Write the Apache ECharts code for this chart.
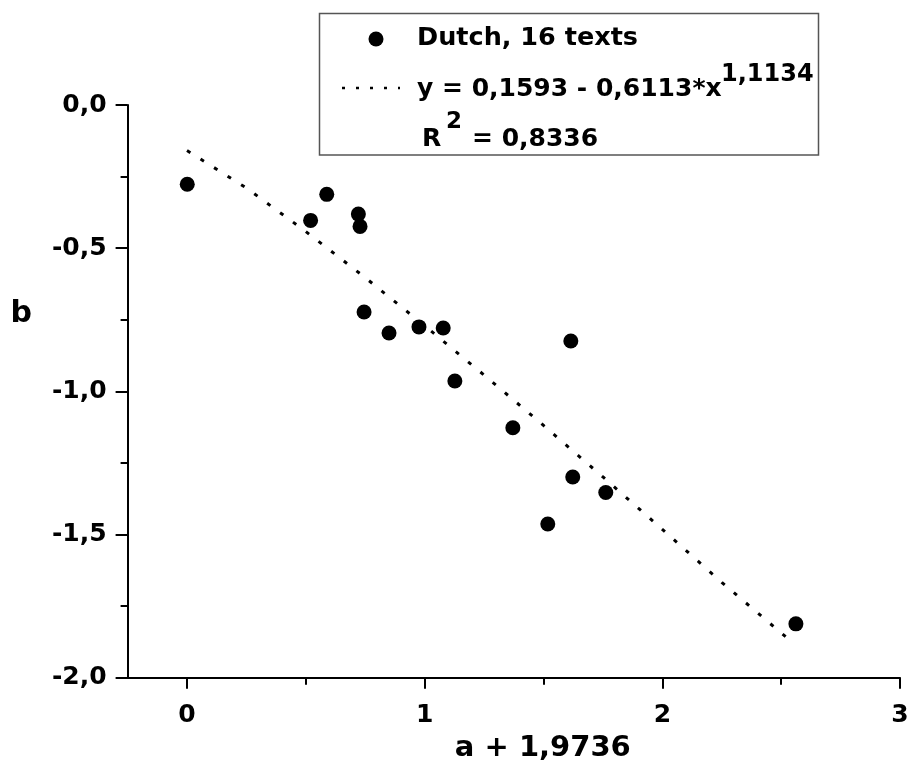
<!DOCTYPE html>
<html>
<head>
<meta charset="utf-8">
<script src="https://cdn.jsdelivr.net/npm/echarts@6/dist/echarts.min.js"></script>
<style>
html,body{margin:0;padding:0;background:#fff;}
#chart{width:913px;height:760px;}
</style>
</head>
<body>
<div id="chart"></div>
<script>
// Scatter data: Dutch, 16 texts
const xValues = [0.001, 0.520, 0.588, 0.721, 0.728, 0.745, 0.850, 0.976, 1.078, 1.127, 1.615, 1.371, 1.623, 1.762, 1.518, 2.562];
const yValues = [-0.277, -0.403, -0.312, -0.381, -0.424, -0.723, -0.796, -0.775, -0.779, -0.964, -0.824, -1.127, -1.299, -1.353, -1.463, -1.812];
// Fit curve
const fitX = [0, 0.25, 0.5, 0.75, 1, 1.25, 1.5, 1.75, 2, 2.25, 2.526];
const fitY = [-0.159, -0.290, -0.442, -0.603, -0.771, -0.943, -1.119, -1.299, -1.482, -1.667, -1.862];
// Tick labels
const xMajorTicks = [0, 1, 2, 3];
const xMinorTicks = [0.5, 1.5, 2.5];
const seriesName = 'Dutch, 16 texts';
const fitLabel = 'y = 0,1593 - 0,6113*x';
const fitExponent = '1,1134';
const r2Label = '= 0,8336';
const xTitle = 'a + 1,9736';
const yTitle = 'b';

const FONT = 'DejaVu Sans';
const chart = echarts.init(document.getElementById('chart'), null, {renderer: 'canvas'});

const scatterData = xValues.map((x, i) => [x, yValues[i]]);
const fitData = fitX.map((x, i) => [x, fitY[i]]);
const GRID_H = 760 - 105 - 82.3;

const option = {
  backgroundColor: '#ffffff',
  animation: false,
  grid: {left: 127.6, right: 13, top: 105, bottom: 82.3, containLabel: false, outerBoundsMode: 'none'},
  xAxis: [{
    type: 'value', min: -0.25, max: 3, position: 'bottom',
    name: xTitle, nameLocation: 'middle', nameGap: 56,
    nameTextStyle: {fontFamily: FONT, fontWeight: 'bold', fontSize: 29, color: '#000', padding: [0, 0, 0, 58]},
    axisLine: {show: true, onZero: false, lineStyle: {color: '#000', width: 2}},
    axisTick: {show: false},
    axisLabel: {show: true, customValues: xMajorTicks, margin: 25, fontFamily: FONT, fontWeight: 'bold', fontSize: 25, color: '#000',
      formatter: v => String(v)},
    splitLine: {show: false}
  }, {
    type: 'value', min: -0.25, max: 3, position: 'top', offset: -GRID_H,
    axisLine: {show: false},
    axisTick: {show: true, inside: true, customValues: xMinorTicks, length: 7, lineStyle: {color: '#000', width: 2}},
    axisLabel: {show: false},
    splitLine: {show: false}
  }, {
    type: 'value', min: -0.25, max: 3, position: 'top', offset: -GRID_H,
    axisLine: {show: false},
    axisTick: {show: true, inside: true, customValues: xMajorTicks, length: 11, lineStyle: {color: '#000', width: 2}},
    axisLabel: {show: false},
    splitLine: {show: false}
  }],
  yAxis: {
    type: 'value', min: -2, max: 0, interval: 0.5,
    axisLine: {show: true, onZero: false, lineStyle: {color: '#000', width: 2}},
    axisTick: {show: true, length: 12, lineStyle: {color: '#000', width: 2}},
    minorTick: {show: true, splitNumber: 2, length: 7, lineStyle: {color: '#000', width: 2}},
    axisLabel: {margin: 21, fontFamily: FONT, fontWeight: 'bold', fontSize: 25, color: '#000',
      formatter: v => (Math.abs(v) < 1e-9 ? '0,0' : v.toFixed(1).replace('.', ','))},
    splitLine: {show: false},
    minorSplitLine: {show: false}
  },
  series: [{
    name: fitLabel + fitExponent,
    type: 'line', data: fitData, showSymbol: false, symbol: 'none',
    lineStyle: {color: '#000', width: 3, type: [4, 12], opacity: 1},
    z: 2
  }, {
    name: seriesName,
    type: 'scatter', data: scatterData, symbol: 'circle', symbolSize: 15,
    itemStyle: {color: '#000', opacity: 1},
    z: 3
  }],
  graphic: [
    {type: 'text', x: 32, y: 314, z: 100, style: {text: yTitle, fontFamily: FONT, fontWeight: 'bold', fontSize: 30,
      fill: '#000', verticalAlign: 'middle', align: 'right'}},
    {type: 'group', z: 100,
    children: [
      {type: 'rect', shape: {x: 319.5, y: 13.5, width: 499, height: 141.5},
        style: {fill: '#fff', stroke: '#555', lineWidth: 1.5}},
      {type: 'circle', shape: {cx: 376, cy: 39, r: 7.5}, style: {fill: '#000'}},
      {type: 'text', x: 417, y: 38, style: {text: seriesName, fontFamily: FONT, fontWeight: 'bold', fontSize: 25.5,
        fill: '#000', verticalAlign: 'middle', align: 'left'}},
      {type: 'line', shape: {x1: 342, y1: 88, x2: 400, y2: 88},
        style: {stroke: '#000', lineWidth: 2.5, lineDash: [3, 11]}},
      {type: 'text', x: 417, y: 89, style: {text: fitLabel, fontFamily: FONT, fontWeight: 'bold', fontSize: 25,
        fill: '#000', verticalAlign: 'middle', align: 'left'}},
      {type: 'text', x: 721, y: 75, style: {text: fitExponent, fontFamily: FONT, fontWeight: 'bold', fontSize: 24,
        fill: '#000', verticalAlign: 'middle', align: 'left'}},
      {type: 'text', x: 422, y: 139, style: {text: 'R', fontFamily: FONT, fontWeight: 'bold', fontSize: 25,
        fill: '#000', verticalAlign: 'middle', align: 'left'}},
      {type: 'text', x: 446, y: 122, style: {text: '2', fontFamily: FONT, fontWeight: 'bold', fontSize: 23,
        fill: '#000', verticalAlign: 'middle', align: 'left'}},
      {type: 'text', x: 472, y: 139, style: {text: r2Label, fontFamily: FONT, fontWeight: 'bold', fontSize: 25,
        fill: '#000', verticalAlign: 'middle', align: 'left'}}
    ]
  }]
};
chart.setOption(option);
</script>
</body>
</html>
